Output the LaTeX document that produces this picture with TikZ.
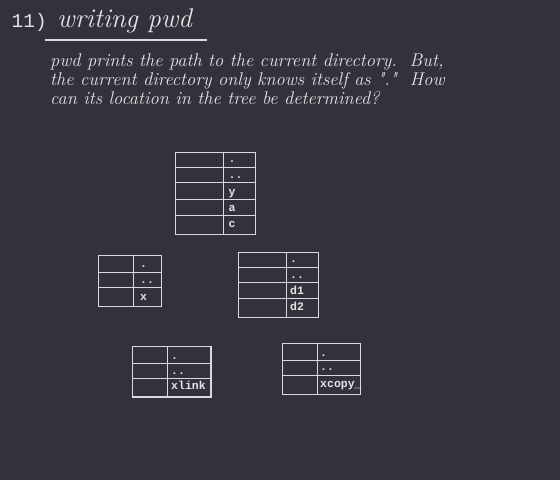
\documentclass[tikz,border=0pt]{standalone}
\usepackage{fontspec}
\newfontfamily\monofont{Liberation Mono}
\definecolor{bgc}{RGB}{50,50,60}
\definecolor{fgc}{RGB}{218,218,218}
\definecolor{txc}{RGB}{228,228,228}
\tikzset{
  grid line/.style={draw=fgc, line width=1.2pt},
  entry/.style={anchor=base west, inner sep=0pt, text=txc, font=\monofont\bfseries\fontsize{11.5}{12}\selectfont},
  para/.style={anchor=base west, inner sep=0pt, text=txc, font=\itshape\fontsize{18.4}{19}\selectfont},
}
\begin{document}
\begin{tikzpicture}[x=1pt, y=-1pt]
\fill[bgc] (0,0) rectangle (560,480);
\useasboundingbox (0,0) rectangle (560,480);
% title
\node[anchor=base west, inner sep=0pt, text=txc, font=\monofont\fontsize{19.5}{20}\selectfont] (num) at (11.5,27.5) {11)};
\node[anchor=base west, inner sep=0pt, text=txc, font=\itshape\fontsize{27}{30}\selectfont] (title) at (57,27.5) {writing pwd};
\draw[fgc, line width=2pt] (45,39.5) -- (207,39.5);
% paragraph
\node[para] (l1) at (50,66) {pwd prints the path to the current directory.\ \ But,};
\node[para] (l2) at (50,85) {the current directory only knows itself as \textquotedbl.\textquotedbl\ \ How};
\node[para] (l3) at (50,104) {can its location in the tree be determined?};
% table 1
\draw[grid line] (175.3,152.3) rectangle (255.7,234.3);
\draw[grid line] (223.3,152.3) -- (223.3,234.3);
\foreach \y in {167.7,182.7,199.3,215.7} \draw[grid line] (175.3,\y) -- (255.7,\y);
\node[entry] (t1a) at (228.5,162.7) {.};
\node[entry] (t1b) at (228.5,178.7) {..};
\node[entry] (t1c) at (228.5,195) {y};
\node[entry] (t1d) at (228.5,211) {a};
\node[entry] (t1e) at (228.5,227) {c};
% table 2
\draw[grid line] (98.3,255.3) rectangle (161.7,306.3);
\draw[grid line] (133.3,255.3) -- (133.3,306.3);
\foreach \y in {272.3,287.3} \draw[grid line] (98.3,\y) -- (161.7,\y);
\node[entry] (t2a) at (140,267.7) {.};
\node[entry] (t2b) at (140,283.7) {..};
\node[entry] (t2c) at (140,300) {x};
% table 3
\draw[grid line] (238.3,252.3) rectangle (318.7,317.3);
\draw[grid line] (286.3,252.3) -- (286.3,317.3);
\foreach \y in {267.3,282.7,298.3} \draw[grid line] (238.3,\y) -- (318.7,\y);
\node[entry] (t3a) at (290,262.7) {.};
\node[entry] (t3b) at (290,278.7) {..};
\node[entry] (t3c) at (290,294) {d1};
\node[entry] (t3d) at (290,310) {d2};
% table 4
\draw[grid line] (132.3,346.3) -- (210,346.3);
\draw[grid line] (132.3,397) -- (210,397);
\draw[grid line] (132.3,346.3) -- (132.3,397);
\draw[grid line] (211,345.5) -- (211,398);
\draw[grid line] (167.3,346.3) -- (167.3,397);
\foreach \y in {363.3,378.3} \draw[grid line] (132.3,\y) -- (210,\y);
\node[entry] (t4a) at (171,359) {.};
\node[entry] (t4b) at (171,374.3) {..};
\node[entry] (t4c) at (171,389.3) {xlink};
% table 5
\draw[grid line] (282.3,343.3) -- (360,343.3);
\draw[grid line] (282.3,394.3) -- (360,394.3);
\draw[grid line] (282.3,343.3) -- (282.3,394.3);
\draw[grid line] (360.7,342.5) -- (360.7,395);
\draw[grid line] (317.7,343.3) -- (317.7,394.3);
\foreach \y in {360.3,375.3} \draw[grid line] (282.3,\y) -- (360,\y);
\node[entry] (t5a) at (320,356.7) {.};
\node[entry] (t5b) at (320,370.7) {..};
\node[entry] (t5c) at (320,387.3) {xcopy\_};
\end{tikzpicture}
\end{document}
